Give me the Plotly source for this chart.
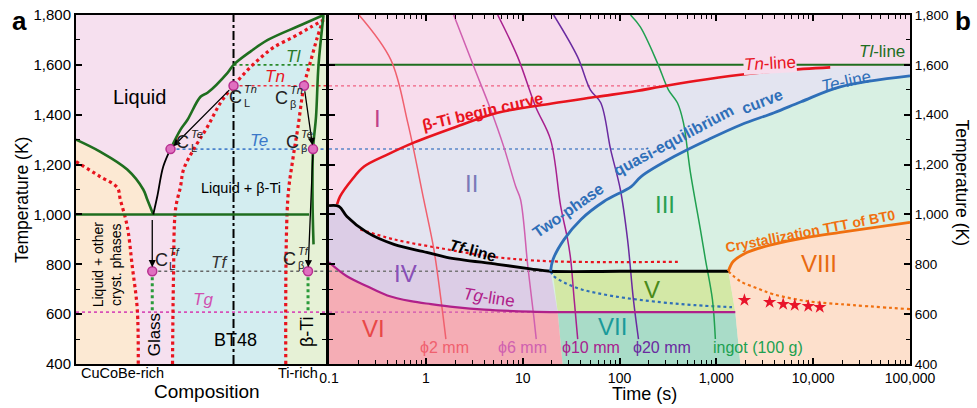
import numpy as np
import plotly.graph_objects as go

FONT = "Liberation Sans, Arial, sans-serif"
NARROW = "Liberation Sans Narrow, Liberation Sans, Arial, sans-serif"

# ---------------- Panel a: composition (0 = CuCoBe-rich, 1 = Ti-rich) vs temperature (K)
liq_left_x = [0, 0.096, 0.205, 0.269, 0.285, 0.309]
liq_left_T = [1300, 1252, 1180, 1100, 1060, 1000]
liq_black_x = [0.309, 0.325, 0.349, 0.378]
liq_black_T = [1000, 1072, 1192, 1262]
liq_right_x = [0.378, 0.418, 0.446, 0.498, 0.526, 0.606, 0.63, 0.70, 0.767, 0.90, 0.99]
liq_right_T = [1262, 1340, 1380, 1472, 1488, 1568, 1600, 1655, 1700, 1760, 1800]
sol_x = [0.99, 0.97, 0.96, 0.948, 0.946, 0.95]
sol_T = [1800, 1600, 1392, 1262, 1060, 880]
red1_x = [0, 0.096, 0.165, 0.177, 0.205, 0.225, 0.245, 0.249]
red1_T = [1212, 1152, 1108, 1060, 952, 792, 620, 400]
red2_x = [0.386, 0.39, 0.398, 0.418, 0.43, 0.47, 0.526, 0.578, 0.63, 0.687, 0.74, 0.79, 0.87, 0.94, 0.99]
red2_T = [400, 752, 1020, 1112, 1180, 1260, 1352, 1448, 1516, 1580, 1630, 1670, 1712, 1752, 1780]
red3_x = [0.839, 0.847, 0.867, 0.888, 0.912, 0.94, 0.965, 0.988]
red3_T = [400, 1060, 1220, 1352, 1516, 1620, 1710, 1780]

T_l, T_n, T_e, T_eut, T_f, T_g = 1600, 1516, 1262, 1000, 772, 608
bt48_x = 0.63
eut_line_end = 0.932
CL_Tn, Cb_Tn = (0.63, 1516), (0.912, 1516)
CL_Te, Cb_Te = (0.378, 1262), (0.948, 1262)
CL_Tf, Cb_Tf = (0.305, 772), (0.928, 772)

# ---------------- Panel b: time (s, log) vs temperature (K)
beta_t = [0.121, 0.13, 0.173, 0.23, 0.4, 0.75, 2, 5.5, 20, 59, 150, 263, 600, 1770, 5000, 15000]
beta_T = [1040, 1072, 1140, 1192, 1240, 1288, 1350, 1408, 1445, 1472, 1495, 1512, 1535, 1560, 1578, 1590]
tf_t = [0.1, 0.127, 0.153, 0.247, 0.468, 1.02, 1.64, 5.5, 12, 19.4, 100, 1330]
tf_T = [1035, 1032, 992, 928, 880, 848, 828, 800, 782, 772, 772, 772]
reddot_t = [0.21, 0.468, 1.64, 5.5, 19.4, 400]
reddot_T = [940, 900, 860, 828, 812, 810]
tg_t = [0.1, 0.153, 0.247, 0.4, 0.7, 1.13, 2, 4, 12, 23, 1570]
tg_T = [808, 752, 712, 675, 652, 640, 628, 618, 610, 608, 608]
two_t = [19.4, 20.6, 26.8, 40, 69, 132, 167, 366, 822, 1800, 3950, 7500, 19000, 100000]
two_T = [772, 820, 900, 980, 1052, 1112, 1152, 1232, 1300, 1360, 1408, 1452, 1512, 1556]
twodot_t = [19.4, 21, 26.6, 40, 87, 263, 600, 1450]
twodot_T = [772, 752, 728, 700, 672, 648, 636, 628]
cry_t = [1330, 1500, 2090, 3870, 8670, 19000, 100000]
cry_T = [772, 812, 848, 880, 908, 928, 968]
crydot_t = [1330, 1770, 2630, 3870, 8670, 19000, 100000]
crydot_T = [772, 732, 704, 680, 652, 640, 620]
star_t = [1950, 3550, 4900, 6450, 8900, 11700]
star_T = [656, 648, 640, 636, 632, 628]

c2_t = [0.204, 0.435, 0.65, 0.95, 1.21, 1.43, 1.61]
c2_T = [1800, 1620, 1368, 1060, 860, 660, 500]
c6_t = [1.94, 3.13, 4.68, 6.37, 8.47, 9.5, 11.3, 13, 13.8]
c6_T = [1800, 1592, 1420, 1272, 1112, 1060, 792, 592, 500]
c10_t = [5.52, 8.87, 13.6, 19.4, 24.7, 29.1, 31.3, 34, 37]
c10_T = [1800, 1632, 1432, 1300, 1032, 900, 820, 660, 500]
c20_t = [20.9, 36.9, 50, 64, 81, 102, 121, 139, 157]
c20_T = [1800, 1632, 1500, 1448, 1260, 1100, 900, 660, 500]
ingot_t = [130, 164, 246, 320, 396, 457, 540, 684, 771, 910, 977]
ingot_T = [1800, 1752, 1608, 1500, 1448, 1368, 1168, 940, 820, 660, 500]

t_min, t_max = 0.1, 100000
tn_dot_end, te_dot_end, tf_dot_end, tg_dot_end = 263, 186, 20, 23
vi_vii = [(20.4, 772), (23, 608), (25.8, 400)]
vii_viii = [(1330, 772), (1570, 608), (1770, 400)]

x_ticks = [0.1, 1, 10, 100, 1000, 10000, 100000]
x_ticktext = ["0.1", "1", "10", "100", "1,000", "10,000", "100,000"]
y_ticks = [400, 600, 800, 1000, 1200, 1400, 1600, 1800]

# ---------------- colours
C_LIQ = "#f6e0ef"
C_PEACH = "#fce9d3"
C_BLUE = "#d3edf0"
C_BTI = "#e6f1d6"
R_I, R_II, R_III, R_IV = "#f8dcec", "#e3e4f0", "#d8f0e3", "#dccde6"
R_V, R_VI, R_VII, R_VIII = "#d3e8a6", "#f5adb5", "#a9dcc8", "#fde0cc"
GREEN = "#1f6e1f"
RED = "#e8141e"
BLUE = "#2f6fb8"
MAG = "#b0208a"
ORANGE = "#f07010"

fig = go.Figure()


def fill(x, y, color, xa="x", ya="y"):
    fig.add_trace(go.Scatter(x=list(x), y=list(y), fill="toself", fillcolor=color, mode="lines",
                             line=dict(width=0), hoverinfo="skip", showlegend=False,
                             xaxis=xa, yaxis=ya))


def line(x, y, color, width, dash="solid", xa="x", ya="y", shape="spline"):
    fig.add_trace(go.Scatter(x=list(x), y=list(y), mode="lines",
                             line=dict(color=color, width=width, dash=dash, shape=shape),
                             hoverinfo="skip", showlegend=False, xaxis=xa, yaxis=ya))


# ---- panel a fills
fill([0, 1, 1, 0], [400, 400, 1800, 1800], C_LIQ)
x1000 = float(np.interp(T_eut, red1_T[::-1], red1_x[::-1]))
low = [(x, T) for x, T in zip(red1_x, red1_T) if T < T_eut]
fill(liq_left_x + [x1000] + [p[0] for p in low] + [0],
     liq_left_T + [T_eut] + [p[1] for p in low] + [400], C_PEACH)
fill(red2_x + red3_x[::-1], red2_T + red3_T[::-1], C_BLUE)
fill(red3_x + [1, 1], red3_T + [1800, 400], C_BTI)

# ---- panel a lines
line([bt48_x, 1], [T_l, T_l], "#2a8a2a", 1.6, "dot", shape="linear")
line([bt48_x, 1], [T_n, T_n], "#f03040", 1.6, "dot", shape="linear")
line([CL_Te[0], 1], [T_e, T_e], "#4a82cc", 1.6, "dot", shape="linear")
line([CL_Tf[0], 1], [T_f, T_f], "#666666", 1.6, "dot", shape="linear")
line([0, 1], [T_g, T_g], "#d850b8", 1.6, "dot", shape="linear")
line([bt48_x, bt48_x], [400, 1800], "black", 2, "dashdot", shape="linear")
for xx in (CL_Tf[0], Cb_Tf[0]):
    line([xx, xx], [T_f, T_g], "#2a9a3a", 3, "dot", shape="linear")
for rx, rT in ((red1_x, red1_T), (red2_x, red2_T), (red3_x, red3_T)):
    line(rx, rT, RED, 3.2, "dot")
line([0, eut_line_end], [T_eut, T_eut], GREEN, 2.4, shape="linear")
line(liq_left_x, liq_left_T, GREEN, 2.6)
line(liq_black_x, liq_black_T, "black", 1.8)
line(liq_right_x, liq_right_T, GREEN, 2.6)
line(sol_x, sol_T, GREEN, 2.6)
pts = [CL_Tn, Cb_Tn, CL_Te, Cb_Te, CL_Tf, Cb_Tf]
fig.add_trace(go.Scatter(x=[p[0] for p in pts], y=[p[1] for p in pts], mode="markers",
                         marker=dict(size=9, color="#e070c0", line=dict(color="#b83090", width=1.5)),
                         hoverinfo="skip", showlegend=False, xaxis="x", yaxis="y"))

# ---- panel b fills
X2, Y2 = "x2", "y2"
fill([t_min, t_max, t_max, t_min], [400, 400, 1800, 1800], R_I, X2, Y2)
fill(beta_t + [t_max, t_max, t_min, t_min], beta_T + [1596, 400, 400, tf_T[0]], R_II, X2, Y2)
fill(two_t + [t_max, vi_vii[0][0]], two_T + [400, 400], R_III, X2, Y2)
fill([vi_vii[0][0], vii_viii[0][0], vii_viii[1][0], vi_vii[1][0]],
     [vi_vii[0][1], vii_viii[0][1], vii_viii[1][1], vi_vii[1][1]], R_V, X2, Y2)
fill([vi_vii[1][0], vii_viii[1][0], vii_viii[2][0], vi_vii[2][0]],
     [vi_vii[1][1], vii_viii[1][1], vii_viii[2][1], vi_vii[2][1]], R_VII, X2, Y2)
fill(cry_t + [t_max, vii_viii[2][0], vii_viii[1][0]], cry_T + [400, 400, vii_viii[1][1]], R_VIII, X2, Y2)
fill(tf_t[:10] + [vi_vii[1][0]] + tg_t[:10][::-1], tf_T[:10] + [vi_vii[1][1]] + tg_T[:10][::-1], R_IV, X2, Y2)
fill(tg_t[:10] + [vi_vii[2][0], t_min], tg_T[:10] + [400, 400], R_VI, X2, Y2)

# ---- panel b lines
line([t_min, tn_dot_end], [T_n, T_n], "#f06080", 1.2, "dot", X2, Y2, "linear")
line([t_min, te_dot_end], [T_e, T_e], "#5a86c8", 1.5, "dot", X2, Y2, "linear")
line([t_min, tf_dot_end], [T_f, T_f], "#777777", 1.5, "dot", X2, Y2, "linear")
line([t_min, tg_dot_end], [T_g, T_g], "#d050b0", 1.2, "dot", X2, Y2, "linear")
line([t_min, t_max], [T_l, T_l], GREEN, 2, "solid", X2, Y2, "linear")
line(reddot_t, reddot_T, RED, 2.2, "dot", X2, Y2)
line(twodot_t, twodot_T, BLUE, 2.2, "dot", X2, Y2)
line(crydot_t, crydot_T, ORANGE, 2.2, "dot", X2, Y2)
line(c2_t, c2_T, "#f0606e", 1.5, "solid", X2, Y2)
line(c6_t, c6_T, "#d060b0", 1.5, "solid", X2, Y2)
line(c10_t, c10_T, "#a8208e", 1.5, "solid", X2, Y2)
line(c20_t, c20_T, "#6a2aa0", 1.5, "solid", X2, Y2)
line(ingot_t, ingot_T, "#20a050", 1.5, "solid", X2, Y2)
line(beta_t, beta_T, RED, 2.6, "solid", X2, Y2)
line(tf_t, tf_T, "black", 2.8, "solid", X2, Y2)
line(tg_t, tg_T, MAG, 2.2, "solid", X2, Y2)
line(two_t, two_T, BLUE, 2.8, "solid", X2, Y2)
line(cry_t, cry_T, ORANGE, 2.8, "solid", X2, Y2)
fig.add_trace(go.Scatter(x=star_t, y=star_T, mode="markers",
                         marker=dict(symbol="star", size=10, color="#e8142a", line=dict(width=0)),
                         hoverinfo="skip", showlegend=False, xaxis=X2, yaxis=Y2))

# ---------------- annotations
ann = []


def text(x, y, s, size=14, color="black", xref="x", yref="y", angle=0, family=FONT, **kw):
    d = dict(x=x, y=y, xref=xref, yref=yref, text=s, showarrow=False, textangle=angle,
             font=dict(family=family, size=size, color=color), xanchor="center", yanchor="middle")
    d.update(kw)
    ann.append(d)


def arrow(p_from, p_to):
    ann.append(dict(x=p_to[0], y=p_to[1], ax=p_from[0], ay=p_from[1], xref="x", yref="y",
                    axref="x", ayref="y", showarrow=True, arrowhead=2, arrowsize=1.1,
                    arrowwidth=1.3, arrowcolor="black", standoff=4, startstandoff=4, text=""))


def clabel(x, y, sub, sup):
    text(x, y, "C", 18, "#222222")
    text(x, y, "<i>%s</i>" % sup, 11, "#222222", xanchor="left", xshift=6, yshift=8)
    text(x, y, sub, 11, "#222222", xanchor="left", xshift=6, yshift=-6)


arrow(CL_Tn, CL_Te)
arrow(Cb_Tn, Cb_Te)
arrow((0.305, T_eut), CL_Tf)
arrow(Cb_Te, Cb_Tf)

text(0.253, 1472, "Liquid", 20)
text(0.659, 1108, "Liquid + β-Ti", 14.5)
text(0.124, 800, "Liquid + other<br>cryst. phases", 14, angle=-90)
text(0.313, 516, "Glass", 17, angle=-90)
text(0.639, 496, "BT48", 18)
text(0.924, 528, "β-Ti", 18, angle=-90)
text(0.871, 1632, "<i>Tl</i>", 17, "#2a7a2a")
text(0.795, 1552, "<i>Tn</i>", 17, RED)
text(0.731, 1296, "<i>Te</i>", 17, "#3a78c8")
text(0.574, 808, "<i>Tf</i>", 17, "#333333")
text(0.506, 660, "<i>Tg</i>", 17, "#d050b0")
clabel(0.639, 1472, "L", "Tn")
clabel(0.823, 1468, "β", "Tn")
clabel(0.426, 1292, "L", "Te")
clabel(0.867, 1292, "β", "Te")
clabel(0.341, 816, "L", "Tf")
clabel(0.855, 820, "β", "Tf")

L = np.log10
text(L(0.313), 1384, "I", 24, "#c0408a", "x2", "y2", family=NARROW)
text(L(2.98), 1124, "II", 24, "#7a7ab8", "x2", "y2", family=NARROW)
text(L(298), 1040, "III", 24, "#2aa050", "x2", "y2", family=NARROW)
text(L(0.62), 764, "IV", 24, "#8a50b8", "x2", "y2", family=NARROW)
text(L(219), 700, "V", 24, "#4a8a1a", "x2", "y2", family=NARROW)
text(L(0.29), 544, "VI", 24, "#e84848", "x2", "y2", family=NARROW)
text(L(84.7), 552, "VII", 24, "#1a9a9a", "x2", "y2", family=NARROW)
text(L(11500), 804, "VIII", 24, "#e86a10", "x2", "y2", family=NARROW)

text(L(3.87), 1412, "<b>β-Ti begin curve</b>", 16, RED, "x2", "y2", angle=-13)
text(L(3600), 1604, "<i>Tn</i>-line", 17, RED, "x2", "y2", angle=-3, bgcolor=R_I, borderpad=0)
text(L(51500), 1652, "<i>Tl</i>-line", 17, GREEN, "x2", "y2")
text(L(21900), 1532, "<i>Te</i>-line", 17, BLUE, "x2", "y2", angle=-12)
text(L(29.4), 1016, "<b>Two-phase</b>", 16, BLUE, "x2", "y2", angle=-35)
text(L(358), 1296, "<b>quasi-equilibrium</b>", 16, BLUE, "x2", "y2", angle=-28)
text(L(2970), 1452, "<b>curve</b>", 16, BLUE, "x2", "y2", angle=-21)
text(L(3.05), 856, "<b><i>Tf</i>-line</b>", 16, "black", "x2", "y2", angle=15)
text(L(4.47), 668, "<i>Tg</i>-line", 17, MAG, "x2", "y2", angle=9)
text(L(9400), 932, "<b>Crystallization TTT of BT0</b>", 14, ORANGE, "x2", "y2", angle=-11)
text(L(1.57), 468, "ϕ2 mm", 16, "#f0606e", "x2", "y2")
text(L(10), 468, "ϕ6 mm", 16, "#d060b0", "x2", "y2")
text(L(51), 468, "ϕ10 mm", 16, "#a8208e", "x2", "y2")
text(L(275), 468, "ϕ20 mm", 16, "#6a2aa0", "x2", "y2")
text(L(2700), 468, "ingot (100 g)", 16, "#20a050", "x2", "y2")

# axis titles and panel letters (paper coordinates)
text(-0.0647, 0.47, "Temperature (K)", 17.5, xref="paper", yref="paper", angle=-90)
text(1.0635, 0.52, "Temperature (K)", 17.5, xref="paper", yref="paper", angle=90)
text(0.157, -0.080, "Composition", 19, xref="paper", yref="paper")
text(0.682, -0.086, "Time (s)", 18, xref="paper", yref="paper")
text(0.0552, -0.026, "CuCoBe-rich", 14.5, xref="paper", yref="paper")
text(0.266, -0.026, "Ti-rich", 14.5, xref="paper", yref="paper")
text(-0.0683, 0.983, "<b>a</b>", 26, xref="paper", yref="paper")
text(1.0635, 0.983, "<b>b</b>", 26, xref="paper", yref="paper")

ax_common = dict(showline=True, linecolor="black", linewidth=2, showgrid=False, zeroline=False,
                 automargin=False)
yax = dict(range=[400, 1800], tickvals=y_ticks, tickformat=",", ticks="inside", ticklen=6,
           tickwidth=1.5, tickcolor="black", mirror="allticks",
           minor=dict(dtick=100, ticks="inside", ticklen=4, tickcolor="black", tickwidth=1.2),
           **ax_common)
minor_t = [k * 10.0 ** n for n in range(-1, 5) for k in range(2, 10)]

fig.update_layout(
    width=977, height=408, autosize=False,
    margin=dict(l=76, r=67, t=15, b=44, autoexpand=False),
    paper_bgcolor="white", plot_bgcolor="white",
    font=dict(family=FONT, size=14, color="black"),
    showlegend=False,
    xaxis=dict(domain=[0, 0.2998], range=[0, 1], showticklabels=False, ticks="", mirror=True,
               anchor="y", **ax_common),
    yaxis=dict(anchor="x", tickfont=dict(size=15), **yax),
    xaxis2=dict(domain=[0.3034, 1], type="log", range=[-1, 5], anchor="y2",
                tickvals=x_ticks, ticktext=x_ticktext, ticks="inside", ticklen=6, tickwidth=1.5,
                tickcolor="black", mirror="allticks", tickfont=dict(size=14),
                minor=dict(tickvals=minor_t, ticks="inside", ticklen=4, tickcolor="black", tickwidth=1.2),
                **ax_common),
    yaxis2=dict(anchor="x2", side="right", tickfont=dict(size=13.5), **yax),
    annotations=ann,
)

fig.write_html("out.html", config={"displayModeBar": False},
               post_script="document.body.style.margin='0px';document.body.style.overflow='hidden';")
